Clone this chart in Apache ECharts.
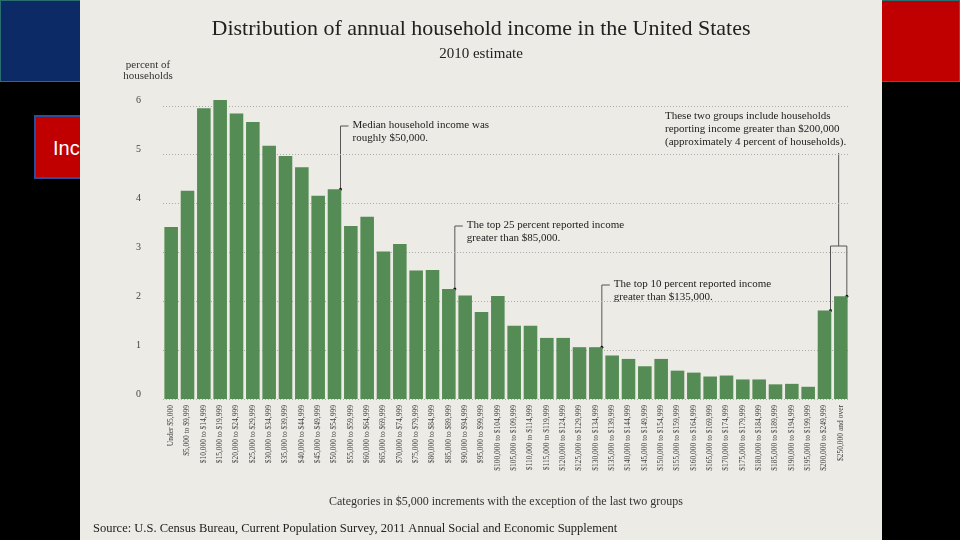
<!DOCTYPE html>
<html><head><meta charset="utf-8">
<script src="https://cdn.jsdelivr.net/npm/echarts@6/dist/echarts.min.js"></script>
<style>
body{margin:0;width:960px;height:540px;background:#000;position:relative;overflow:hidden;font-family:"Liberation Sans",sans-serif}
#blue{position:absolute;left:0;top:0;width:82px;height:82px;background:#0c2a66;border:1px solid #2a6f6f;box-sizing:border-box}
#red{position:absolute;left:880px;top:0;width:80px;height:82px;background:#c00000;border:1px solid #2a6f6f;box-sizing:border-box}
#inc{position:absolute;left:34px;top:115px;width:50px;height:64px;background:#c00000;border:2px solid #2a4f9a;box-sizing:border-box;color:#fff;font-size:20px;padding:20px 0 0 17px}
#main{position:absolute;left:80px;top:0;width:802px;height:540px}
</style></head>
<body>
<div id="blue"></div><div id="red"></div><div id="inc">Inc</div>
<div id="main"></div>
<script>
var categories = ['Under $5,000','$5,000 to $9,999','$10,000 to $14,999','$15,000 to $19,999','$20,000 to $24,999','$25,000 to $29,999','$30,000 to $34,999','$35,000 to $39,999','$40,000 to $44,999','$45,000 to $49,999','$50,000 to $54,999','$55,000 to $59,999','$60,000 to $64,999','$65,000 to $69,999','$70,000 to $74,999','$75,000 to $79,999','$80,000 to $84,999','$85,000 to $89,999','$90,000 to $94,999','$95,000 to $99,999','$100,000 to $104,999','$105,000 to $109,999','$110,000 to $114,999','$115,000 to $119,999','$120,000 to $124,999','$125,000 to $129,999','$130,000 to $134,999','$135,000 to $139,999','$140,000 to $144,999','$145,000 to $149,999','$150,000 to $154,999','$155,000 to $159,999','$160,000 to $164,999','$165,000 to $169,999','$170,000 to $174,999','$175,000 to $179,999','$180,000 to $184,999','$185,000 to $189,999','$190,000 to $194,999','$195,000 to $199,999','$200,000 to $249,999','$250,000 and over'];
var percents = [3.52,4.26,5.95,6.12,5.84,5.67,5.18,4.97,4.74,4.16,4.29,3.54,3.73,3.02,3.17,2.63,2.64,2.25,2.12,1.78,2.11,1.50,1.50,1.25,1.25,1.06,1.06,0.89,0.82,0.67,0.82,0.58,0.54,0.46,0.48,0.40,0.40,0.30,0.31,0.25,1.81,2.10];
var yTicks = [0,1,2,3,4,5,6];

var serif = 'Liberation Serif, DejaVu Serif, serif';
var chart = echarts.init(document.getElementById('main'));
var option = {
    backgroundColor: '#ecebe5',
    animation: false,
    title: [
        {text: 'Distribution of annual household income in the United States', left: 'center', top: 13,
         textStyle: {fontFamily: serif, fontSize: 22, fontWeight: 'normal', color: '#222'}},
        {text: '2010 estimate', left: 'center', top: 42,
         textStyle: {fontFamily: serif, fontSize: 15, fontWeight: 'normal', color: '#222'}},
        {text: 'Source: U.S. Census Bureau, Current Population Survey, 2011 Annual Social and Economic Supplement', left: 8, top: 517,
         textStyle: {fontFamily: serif, fontSize: 12.5, fontWeight: 'normal', color: '#222'}}
    ],
    grid: {left: 83, right: 33, top: 96, bottom: 141},
    xAxis: {
        type: 'category', data: categories,
        name: 'Categories in $5,000 increments with the exception of the last two groups',
        nameLocation: 'middle', nameGap: 97,
        nameTextStyle: {fontFamily: serif, fontSize: 12, color: '#333'},
        axisLine: {show: false}, axisTick: {show: false},
        axisLabel: {rotate: 90, interval: 0, fontFamily: serif, fontSize: 7.5, color: '#444', margin: 6}
    },
    yAxis: {
        type: 'value', min: 0, max: 6.2, interval: 1,
        name: 'percent of\nhouseholds', nameLocation: 'end', nameGap: 14,
        nameTextStyle: {fontFamily: serif, fontSize: 11, color: '#333', align: 'center', padding: [0, 0, 0, -30]},
        axisLine: {show: false}, axisTick: {show: false},
        axisLabel: {showMaxLabel: false, fontFamily: serif, fontSize: 10, color: '#444', margin: 22, verticalAlign: 'bottom',
            formatter: function (v) { return yTicks.indexOf(v) >= 0 ? String(v) : ''; }},
        splitLine: {show: false}
    },
    series: [{
        type: 'bar', data: percents, barCategoryGap: '17%', itemStyle: {color: '#558b54'}, z: 3,
        markLine: {
            silent: true, symbol: 'none', label: {show: false}, z: 1,
            lineStyle: {color: '#aaa', type: [1, 2], width: 1},
            data: yTicks.map(function (t) { return {yAxis: t}; })
        }
    }]
};
chart.setOption(option);

function px(i, v) { return chart.convertToPixel({xAxisIndex: 0, yAxisIndex: 0}, [i, v]); }
var ls = {stroke: '#555', lineWidth: 1};
var ts = {fontFamily: serif, fontSize: 11, fill: '#222', lineHeight: 13};
var g = [];
function note(i, topY, text) {
    var p = px(i, percents[i]);
    var x = p[0] + 6;
    g.push({type: 'polyline', shape: {points: [[x, p[1]], [x, topY], [x + 8, topY]]}, style: ls});
    g.push({type: 'circle', shape: {cx: x, cy: p[1], r: 1.5}, style: {fill: '#111'}});
    g.push({type: 'text', x: x + 12, y: topY - 7, style: Object.assign({text: text}, ts)});
}
note(10, 126, 'Median household income was\nroughly $50,000.');
note(17, 226, 'The top 25 percent reported income\ngreater than $85,000.');
note(26, 285, 'The top 10 percent reported income\ngreater than $135,000.');
var a = px(40, percents[40]), b = px(41, percents[41]);
var ax = a[0] + 6, bx = b[0] + 6, mid = (ax + bx) / 2;
g.push({type: 'polyline', shape: {points: [[ax, a[1]], [ax, 246], [bx, 246], [bx, b[1]]]}, style: ls});
g.push({type: 'line', shape: {x1: mid, y1: 246, x2: mid, y2: 153}, style: ls});
g.push({type: 'circle', shape: {cx: ax, cy: a[1], r: 1.5}, style: {fill: '#111'}});
g.push({type: 'circle', shape: {cx: bx, cy: b[1], r: 1.5}, style: {fill: '#111'}});
g.push({type: 'text', x: 585, y: 110, style: Object.assign({text: 'These two groups include households\nreporting income greater than $200,000\n(approximately 4 percent of households).'}, ts)});
chart.setOption({graphic: g});
</script>
</body></html>
